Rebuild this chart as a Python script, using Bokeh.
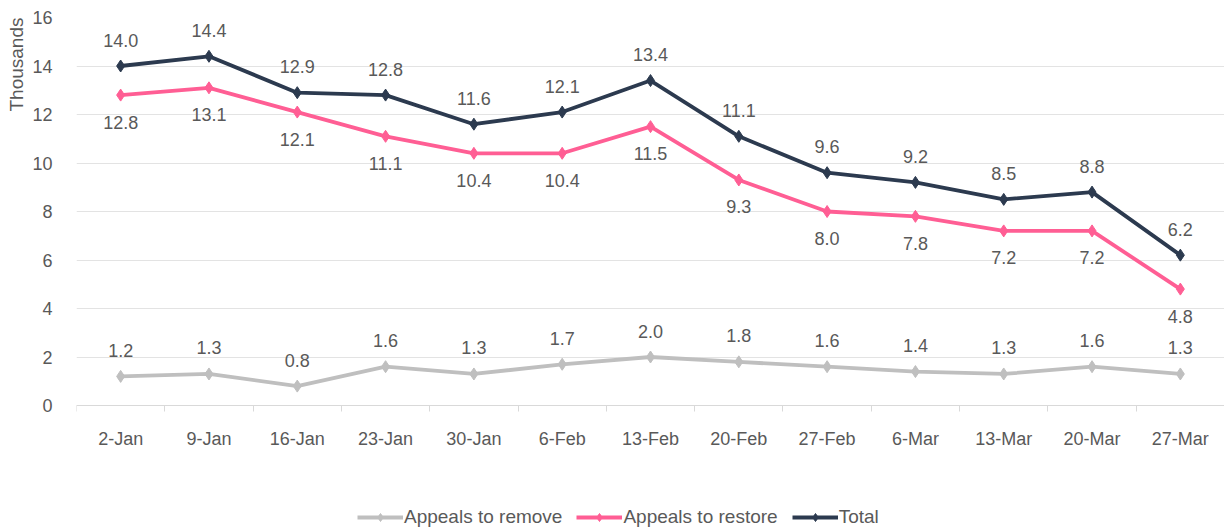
from bokeh.plotting import figure
from bokeh.models import (ColumnDataSource, FixedTicker, Legend, LegendItem, Range1d, Title)
from bokeh.core.properties import value
from bokeh.embed import file_html
from bokeh.resources import INLINE

weeks = ["2-Jan", "9-Jan", "16-Jan", "23-Jan", "30-Jan", "6-Feb", "13-Feb",
         "20-Feb", "27-Feb", "6-Mar", "13-Mar", "20-Mar", "27-Mar"]
total = [14.0, 14.4, 12.9, 12.8, 11.6, 12.1, 13.4, 11.1, 9.6, 9.2, 8.5, 8.8, 6.2]
restore = [12.8, 13.1, 12.1, 11.1, 10.4, 10.4, 11.5, 9.3, 8.0, 7.8, 7.2, 7.2, 4.8]
remove = [1.2, 1.3, 0.8, 1.6, 1.3, 1.7, 2.0, 1.8, 1.6, 1.4, 1.3, 1.6, 1.3]
y_ticks = [0, 2, 4, 6, 8, 10, 12, 14, 16]

FONT = "Liberation Sans"
TXT = "#595959"
idx = list(range(len(weeks)))

H = 531
TOP = 17
PX_PER_UNIT = 24.25
y_start = 16 - (H - TOP) / PX_PER_UNIT

p = figure(width=1224, height=H, output_backend="svg", toolbar_location=None,
           x_range=Range1d(-0.5, len(weeks) - 0.5), y_range=Range1d(y_start, 16),
           min_border_left=76, min_border_right=0, min_border_top=TOP,
           min_border_bottom=0)
p.outline_line_color = None
p.xgrid.grid_line_color = None
p.ygrid.grid_line_color = "#e3e3e3"
p.ygrid.grid_line_width = 1

p.yaxis.ticker = FixedTicker(ticks=y_ticks)
p.yaxis.axis_line_color = None
p.yaxis.major_tick_line_color = None
p.yaxis.minor_tick_line_color = None
p.yaxis.major_label_standoff = 18
p.yaxis.major_label_text_font = FONT
p.yaxis.major_label_text_font_size = "18px"
p.yaxis.major_label_text_color = TXT

ytitle = Title(text="Thousands", align="right", text_font=FONT,
               text_font_size="19px", text_font_style="normal",
               text_color=TXT, standoff=6)
p.add_layout(ytitle, "left")

xa = p.xaxis[0]
xa.fixed_location = 0
xa.ticker = FixedTicker(ticks=idx, minor_ticks=[i - 0.5 for i in range(len(weeks) + 1)])
xa.major_label_overrides = {i: w for i, w in enumerate(weeks)}
xa.axis_line_color = "#d9d9d9"
xa.major_tick_line_color = None
xa.major_tick_out = 0
xa.major_tick_in = 0
xa.minor_tick_line_color = "#d9d9d9"
xa.minor_tick_out = 6
xa.minor_tick_in = 0
xa.major_label_standoff = 17
xa.major_label_text_font = FONT
xa.major_label_text_font_size = "18px"
xa.major_label_text_color = TXT

series = [
    ("Appeals to remove", remove, "#bfbfbf", -26),
    ("Appeals to restore", restore, "#ff5e94", 27),
    ("Total", total, "#2c3a4f", -26),
]

items = []
for name, vals, color, off in series:
    src = ColumnDataSource(dict(x=idx, y=vals, lbl=[f"{v:.1f}" for v in vals]))
    ln = p.line("x", "y", source=src, line_color=color, line_width=3.8)
    mk = p.scatter("x", "y", source=src, marker="diamond", size=12,
                   fill_color=color, line_color=color)
    p.text("x", "y", text="lbl", source=src, y_offset=off, text_align="center",
           text_baseline="middle", text_font=value(FONT), text_font_size="18px",
           text_color=TXT)
    items.append(LegendItem(label=name, renderers=[ln, mk]))

legend = Legend(items=items, orientation="horizontal", location=(281, 3),
                glyph_width=46, glyph_height=20, label_standoff=1, spacing=14,
                padding=0, margin=0, border_line_color=None,
                background_fill_alpha=0, label_text_font=FONT,
                label_text_font_size="19px", label_text_color=TXT)
p.add_layout(legend, "center")

open("out.html", "w").write(file_html(p, INLINE))
